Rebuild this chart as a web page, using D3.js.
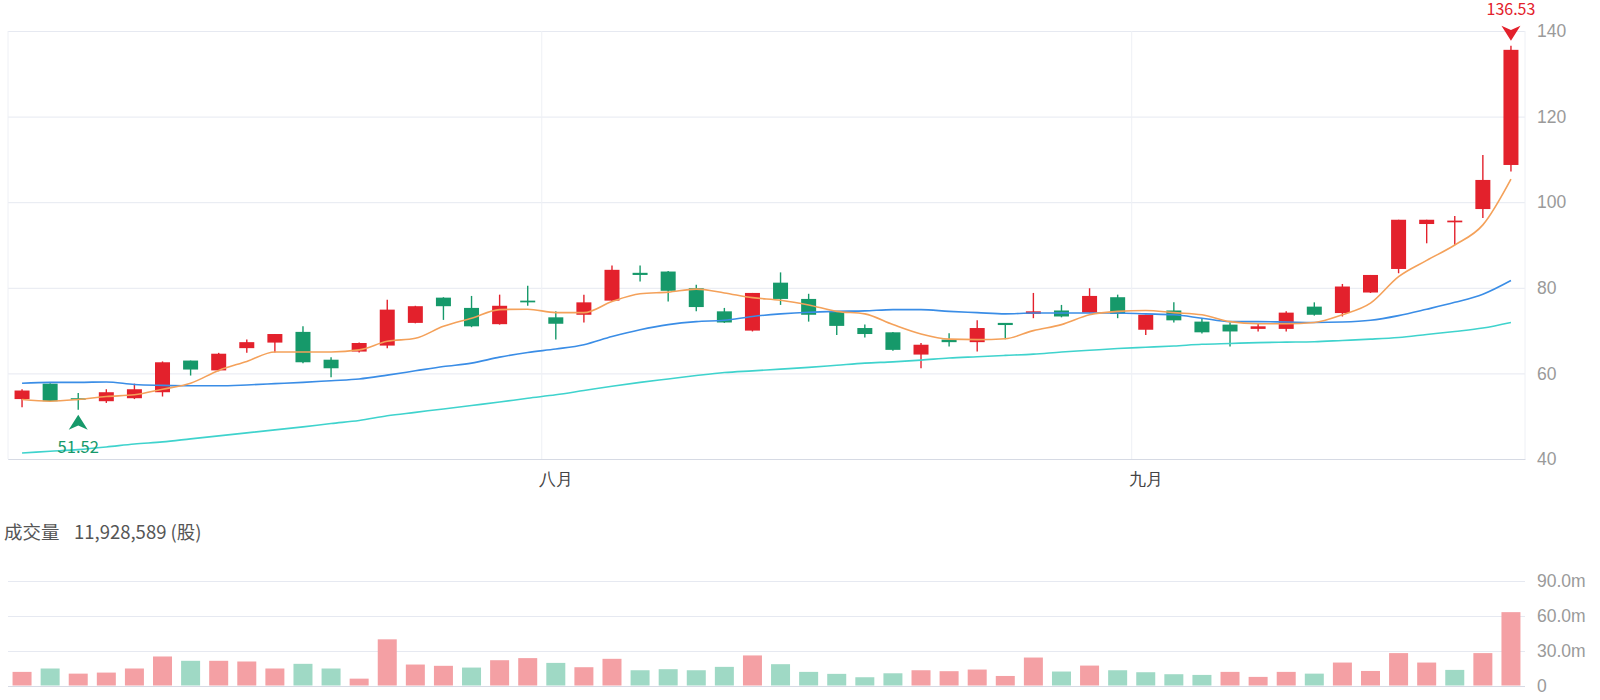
<!DOCTYPE html>
<html>
<head>
<meta charset="utf-8">
<script src="https://cdn.jsdelivr.net/npm/d3@7"></script>
<style>
  body { margin: 0; background: #fff; }
  svg { display: block; font-family: "Noto Sans CJK SC", "Noto Sans", sans-serif; }
</style>
</head>
<body>
<div id="chart"></div>
<script>
// daily candles, July -> mid September
const opens = [54.0, 57.6, 54.2, 53.5, 54.2, 55.6, 63.0, 60.7, 65.9, 67.2, 69.7, 63.2, 65.1, 66.5,
  71.8, 77.7, 75.3, 71.5, 77.0, 73.1, 73.7, 77.0, 83.5, 83.8, 79.9, 74.5, 70.0, 81.2,
  77.4, 74.5, 70.6, 69.6, 64.4, 67.9, 67.3, 71.8, 73.9, 74.7, 74.2, 77.8, 70.2,
  74.7, 72.1, 71.4, 70.4, 70.4, 75.6, 74.1, 78.9, 84.4, 94.9, 95.3, 98.4, 108.7];
const closes = [56.0, 53.5, 54.1, 55.6, 56.3, 62.6, 60.9, 64.6, 67.3, 69.2, 62.6, 61.2, 67.1, 74.9,
  75.7, 75.7, 71.0, 75.8, 76.6, 71.6, 76.6, 84.2, 83.0, 79.3, 75.5, 71.9, 78.8, 77.4,
  73.7, 71.1, 69.2, 65.5, 66.7, 67.3, 70.6, 71.3, 74.5, 73.3, 78.1, 73.9, 73.7,
  72.4, 69.6, 69.8, 71.0, 74.2, 73.7, 80.3, 83.0, 95.9, 95.9, 95.7, 105.2, 135.6];
const highs = [56.3, 57.7, 55.4, 56.3, 57.6, 62.8, 63.0, 64.8, 67.9, 69.2, 71.0, 63.8, 67.2, 77.2,
  75.8, 77.8, 78.1, 78.4, 80.5, 74.5, 78.4, 85.2, 85.2, 83.9, 80.7, 75.3, 78.8, 83.6,
  78.6, 74.5, 71.4, 69.7, 67.1, 69.4, 72.4, 71.8, 78.8, 76.0, 79.9, 78.4, 73.7,
  76.6, 72.9, 71.9, 71.8, 74.5, 76.6, 80.9, 83.0, 95.9, 95.9, 96.8, 111.0, 136.53];
const lows = [52.1, 53.4, 51.52, 53.1, 54.0, 54.6, 59.5, 60.5, 64.8, 64.9, 62.4, 59.1, 64.9, 65.9,
  71.7, 72.5, 70.8, 71.4, 75.8, 67.9, 71.9, 76.8, 81.5, 76.8, 74.5, 71.8, 69.8, 76.0,
  72.1, 69.0, 68.4, 65.3, 61.2, 66.3, 65.1, 68.0, 72.9, 73.1, 74.2, 72.9, 69.0,
  71.9, 69.3, 66.3, 69.8, 69.8, 73.5, 73.3, 78.8, 83.4, 90.4, 90.0, 96.3, 107.2];

// volume, millions of shares
const volumes = [12.1, 15.0, 10.6, 11.5, 15.0, 25.3, 21.6, 21.6, 21.0, 15.0, 19.0, 15.0, 6.3, 40.0,
  18.4, 17.3, 15.8, 22.1, 23.9, 19.8, 16.1, 23.3, 13.5, 14.4, 13.5, 16.4, 26.2, 18.7,
  12.1, 10.4, 7.5, 10.9, 13.5, 12.7, 14.1, 8.6, 24.4, 12.4, 17.5, 13.5, 11.8,
  10.1, 9.5, 12.1, 7.8, 12.1, 10.6, 20.1, 12.9, 28.2, 20.1, 13.8, 28.2, 63.3];

// moving averages as drawn
const ma5 = [53.9, 53.5, 53.9, 54.6, 55.0, 56.3, 57.7, 60.7, 62.8, 65.0, 65.0, 65.0, 65.5, 67.5,
  68.2, 71.0, 72.9, 74.9, 75.0, 74.2, 74.2, 76.8, 78.6, 79.0, 79.7, 78.8, 77.7, 77.1,
  76.0, 74.5, 73.9, 71.4, 69.2, 68.0, 67.9, 68.1, 70.0, 71.4, 73.7, 74.5, 74.7,
  74.2, 73.7, 72.1, 71.6, 71.6, 71.9, 73.7, 76.4, 82.6, 86.4, 90.0, 94.7, 105.4];
const ma10 = [57.7, 57.9, 57.9, 58.0, 57.4, 57.2, 57.1, 57.1, 57.3, 57.6, 57.9, 58.3, 58.7, 59.6,
  60.6, 61.6, 62.4, 63.8, 64.9, 65.7, 66.7, 68.6, 70.2, 71.4, 72.1, 72.4, 73.3, 73.9,
  74.3, 74.5, 74.6, 74.9, 74.9, 74.5, 74.2, 73.9, 74.1, 74.1, 74.1, 74.1, 73.9,
  73.7, 72.9, 72.1, 72.1, 72.0, 71.9, 72.0, 72.4, 73.5, 75.0, 76.6, 78.5, 81.7];
const ma20 = [41.4, 41.8, 42.2, 42.8, 43.5, 44.0, 44.7, 45.4, 46.1, 46.8, 47.5, 48.3, 49.0, 50.1,
  50.9, 51.7, 52.5, 53.3, 54.2, 55.0, 56.0, 57.0, 57.9, 58.7, 59.5, 60.2, 60.6, 61.0,
  61.4, 61.9, 62.4, 62.7, 63.1, 63.6, 63.9, 64.2, 64.5, 65.0, 65.4, 65.8, 66.1,
  66.4, 66.8, 67.0, 67.2, 67.3, 67.4, 67.7, 68.0, 68.4, 69.1, 69.8, 70.6, 71.9];

const monthStarts = [19, 40];
const monthLabels = ['八月', '九月'];
const priceTicks = [40, 60, 80, 100, 120, 140];
const volumeTicks = [0, 30, 60, 90];
const volumeTitle = '成交量';
const volumeLast = '11,928,589 (股)';

drawChart();

function drawChart() {
  const width = 1600;
  const height = 700;
  const left = 8;
  const right = 1525;

  const red = '#e3212c';
  const green = '#16996a';

  const svg = d3.select('#chart').append('svg')
    .attr('width', width)
    .attr('height', height);

  const x = d3.scaleBand()
    .domain(d3.range(opens.length))
    .range([left, right]);
  const cx = (i) => x(i) + x.bandwidth() / 2;

  const y = d3.scaleLinear().domain([40, 140]).range([459, 31]);
  const yVol = d3.scaleLinear().domain([0, 90]).range([686, 581]);

  // price grid + right labels
  const yAxis = svg.append('g')
    .attr('transform', `translate(${left},0)`)
    .call(d3.axisRight(y).tickValues(priceTicks).tickSize(right - left).tickPadding(12));
  yAxis.select('.domain').remove();
  yAxis.selectAll('line').attr('stroke', '#e6e9f1');
  yAxis.selectAll('text').attr('fill', '#9a9a9a').attr('font-size', 17.5);

  // vertical split lines
  const vlines = [left, x(monthStarts[0]), x(monthStarts[1]), right];
  svg.append('g').selectAll('line')
    .data(vlines)
    .join('line')
    .attr('x1', (d) => d).attr('x2', (d) => d)
    .attr('y1', y(140)).attr('y2', y(40))
    .attr('stroke', '#eef0f5');

  // bottom axis line + month labels
  const xAxis = svg.append('g')
    .attr('transform', `translate(0,${y(40)})`)
    .call(d3.axisBottom(x)
      .tickValues(monthStarts)
      .tickFormat((d, i) => monthLabels[i])
      .tickSize(0)
      .tickPadding(14));
  xAxis.select('.domain').attr('stroke', '#d6dae4');
  xAxis.selectAll('text').attr('fill', '#444').attr('font-size', 17);

  // candles
  const bodyW = 15;
  const candles = svg.append('g').selectAll('g')
    .data(opens.map((o, i) => i))
    .join('g')
    .attr('fill', (i) => closes[i] > opens[i] ? red : green)
    .attr('stroke', (i) => closes[i] > opens[i] ? red : green);

  candles.append('line')
    .attr('x1', cx).attr('x2', cx)
    .attr('y1', (i) => y(highs[i]))
    .attr('y2', (i) => y(lows[i]))
    .attr('stroke-width', 1.4);

  candles.append('rect')
    .attr('x', (i) => cx(i) - bodyW / 2)
    .attr('width', bodyW)
    .attr('y', (i) => y(Math.max(opens[i], closes[i])))
    .attr('height', (i) => Math.max(1.5, Math.abs(y(opens[i]) - y(closes[i]))))
    .attr('stroke', 'none');

  // moving averages
  const maLine = d3.line()
    .x((d, i) => cx(i))
    .y((d) => y(d))
    .curve(d3.curveMonotoneX);

  const maSeries = [
    { values: ma20, color: '#3fd3cd' },
    { values: ma10, color: '#3a8de6' },
    { values: ma5, color: '#f4a15a' }
  ];
  svg.append('g').selectAll('path')
    .data(maSeries)
    .join('path')
    .attr('d', (d) => maLine(d.values))
    .attr('fill', 'none')
    .attr('stroke', (d) => d.color)
    .attr('stroke-width', 1.6);

  // min / max markers
  const minIdx = d3.minIndex(lows);
  const maxIdx = d3.maxIndex(highs);

  function arrow(xc, tip, dir) {
    // dir = 1 points up, -1 points down
    const w = 9.5, h = 15;
    const p = d3.path();
    p.moveTo(xc, tip);
    p.lineTo(xc + w, tip + dir * h);
    p.lineTo(xc, tip + dir * h * 0.72);
    p.lineTo(xc - w, tip + dir * h);
    p.closePath();
    return p.toString();
  }

  svg.append('path')
    .attr('d', arrow(cx(minIdx), y(lows[minIdx]) + 5, 1))
    .attr('fill', green);
  svg.append('text')
    .attr('x', cx(minIdx))
    .attr('y', y(lows[minIdx]) + 43)
    .attr('text-anchor', 'middle')
    .attr('fill', green)
    .attr('font-size', 16.5)
    .text(lows[minIdx].toFixed(2));

  svg.append('path')
    .attr('d', arrow(cx(maxIdx), y(highs[maxIdx]) - 5, -1))
    .attr('fill', red);
  svg.append('text')
    .attr('x', cx(maxIdx))
    .attr('y', 15)
    .attr('text-anchor', 'middle')
    .attr('fill', red)
    .attr('font-size', 16)
    .text(highs[maxIdx].toFixed(2));

  // volume panel
  const header = svg.append('text')
    .attr('y', 539)
    .attr('fill', '#555');
  header.append('tspan')
    .attr('x', 4)
    .attr('font-size', 18.5)
    .text(volumeTitle);
  header.append('tspan')
    .attr('x', 74)
    .attr('font-size', 18.5)
    .text(volumeLast);

  const volAxis = svg.append('g')
    .attr('transform', `translate(${left},0)`)
    .call(d3.axisRight(yVol)
      .tickValues(volumeTicks)
      .tickSize(right - left)
      .tickPadding(12)
      .tickFormat((d) => d === 0 ? '0' : d3.format('.1f')(d) + 'm'));
  volAxis.select('.domain').remove();
  volAxis.selectAll('line').attr('stroke', (d) => d === 0 ? '#d6dae4' : '#e6e9f1');
  volAxis.selectAll('text').attr('fill', '#9a9a9a').attr('font-size', 17.5);

  const volW = 19;
  svg.append('g').selectAll('rect')
    .data(volumes)
    .join('rect')
    .attr('x', (d, i) => cx(i) - volW / 2)
    .attr('width', volW)
    .attr('y', (d) => yVol(d))
    .attr('height', (d) => yVol(0) - yVol(d) - 0.5)
    .attr('fill', (d, i) => {
      const up = i === 0 ? closes[i] >= opens[i] : closes[i] >= closes[i - 1];
      return up ? '#f4a0a4' : '#9fd9c5';
    });
}
</script>
</body>
</html>
